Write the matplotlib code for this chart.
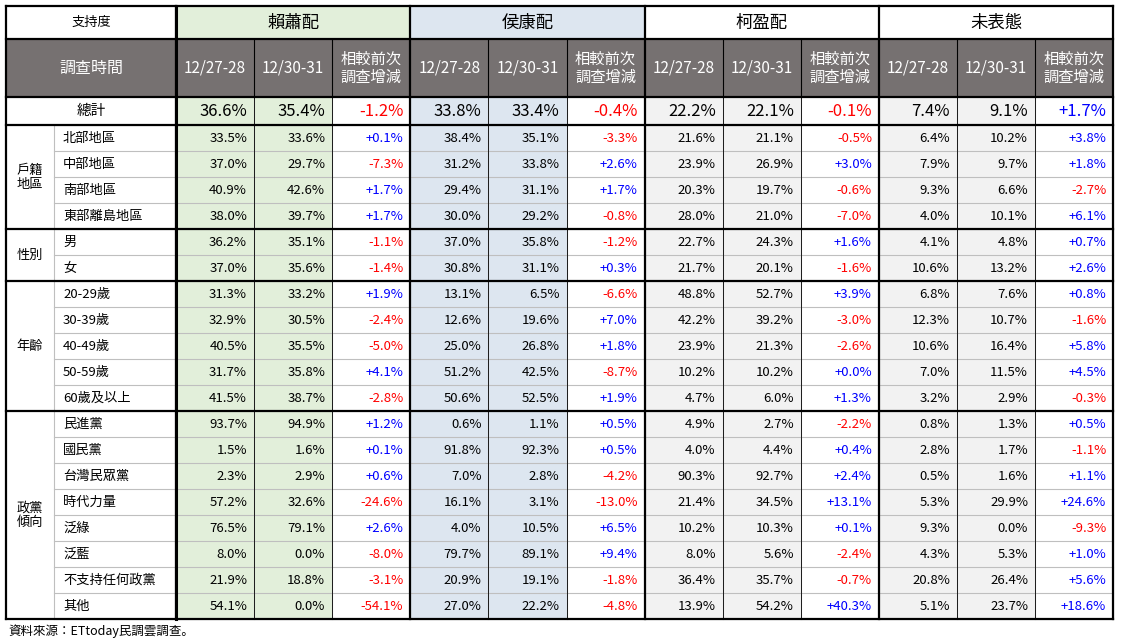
import matplotlib
matplotlib.use("Agg")
import matplotlib.pyplot as plt
from matplotlib.patches import Rectangle
from matplotlib import font_manager as fm

cjk = [f.name for f in fm.fontManager.ttflist if "CJK" in f.name]
pref = [n for n in ["Noto Sans CJK TC", "Noto Sans CJK JP", "Noto Sans CJK SC"] if n in cjk] or cjk[:1]
plt.rcParams["font.family"] = pref + ["DejaVu Sans"]

candidates = ["賴蕭配", "侯康配", "柯盈配", "未表態"]
dates = ["12/27-28", "12/30-31"]
groups = [("戶籍\n地區", 4), ("性別", 2), ("年齡", 5), ("政黨\n傾向", 8)]
rows = ["北部地區", "中部地區", "南部地區", "東部離島地區", "男", "女",
        "20-29歲", "30-39歲", "40-49歲", "50-59歲", "60歲及以上",
        "民進黨", "國民黨", "台灣民眾黨", "時代力量", "泛綠", "泛藍", "不支持任何政黨", "其他"]
total = [36.6, 35.4, 33.8, 33.4, 22.2, 22.1, 7.4, 9.1]
total_chg = [-1.2, -0.4, -0.1, 1.7]
vals = [
    [33.5, 33.6, 38.4, 35.1, 21.6, 21.1, 6.4, 10.2],
    [37.0, 29.7, 31.2, 33.8, 23.9, 26.9, 7.9, 9.7],
    [40.9, 42.6, 29.4, 31.1, 20.3, 19.7, 9.3, 6.6],
    [38.0, 39.7, 30.0, 29.2, 28.0, 21.0, 4.0, 10.1],
    [36.2, 35.1, 37.0, 35.8, 22.7, 24.3, 4.1, 4.8],
    [37.0, 35.6, 30.8, 31.1, 21.7, 20.1, 10.6, 13.2],
    [31.3, 33.2, 13.1, 6.5, 48.8, 52.7, 6.8, 7.6],
    [32.9, 30.5, 12.6, 19.6, 42.2, 39.2, 12.3, 10.7],
    [40.5, 35.5, 25.0, 26.8, 23.9, 21.3, 10.6, 16.4],
    [31.7, 35.8, 51.2, 42.5, 10.2, 10.2, 7.0, 11.5],
    [41.5, 38.7, 50.6, 52.5, 4.7, 6.0, 3.2, 2.9],
    [93.7, 94.9, 0.6, 1.1, 4.9, 2.7, 0.8, 1.3],
    [1.5, 1.6, 91.8, 92.3, 4.0, 4.4, 2.8, 1.7],
    [2.3, 2.9, 7.0, 2.8, 90.3, 92.7, 0.5, 1.6],
    [57.2, 32.6, 16.1, 3.1, 21.4, 34.5, 5.3, 29.9],
    [76.5, 79.1, 4.0, 10.5, 10.2, 10.3, 9.3, 0.0],
    [8.0, 0.0, 79.7, 89.1, 8.0, 5.6, 4.3, 5.3],
    [21.9, 18.8, 20.9, 19.1, 36.4, 35.7, 20.8, 26.4],
    [54.1, 0.0, 27.0, 22.2, 13.9, 54.2, 5.1, 23.7],
]
chg = [
    [0.1, -3.3, -0.5, 3.8], [-7.3, 2.6, 3.0, 1.8], [1.7, 1.7, -0.6, -2.7], [1.7, -0.8, -7.0, 6.1],
    [-1.1, -1.2, 1.6, 0.7], [-1.4, 0.3, -1.6, 2.6],
    [1.9, -6.6, 3.9, 0.8], [-2.4, 7.0, -3.0, -1.6], [-5.0, 1.8, -2.6, 5.8], [4.1, -8.7, 0.0, 4.5], [-2.8, 1.9, 1.3, -0.3],
    [1.2, 0.5, -2.2, 0.5], [0.1, 0.5, 0.4, -1.1], [0.6, -4.2, 2.4, 1.1], [-24.6, -13.0, 13.1, 24.6],
    [2.6, 6.5, 0.1, -9.3], [-8.0, 9.4, -2.4, 1.0], [-3.1, -1.8, -0.7, 5.6], [-54.1, -4.8, 40.3, 18.6],
]

fig = plt.figure(figsize=(11.21, 6.44), dpi=100)
ax = fig.add_axes([0, 0, 1, 1])
ax.set_xlim(0, 1121); ax.set_ylim(644, 0); ax.axis("off")

X0, X1, X2 = 6, 54, 176
CW = 78.1
colx = [X2 + i * CW for i in range(13)]
Y = [6, 39, 97, 125]
RH = 26
rowy = [125 + i * RH for i in range(20)]
bgc = ["#E2EFDA", "#DDE6F0", "#F2F2F2", "#F2F2F2"]
hdr = "#767171"
RED, BLUE = "#FF0000", "#0000FF"

def rect(x0, y0, x1, y1, fc):
    ax.add_patch(Rectangle((x0, y0), x1 - x0, y1 - y0, fc=fc, ec="none", lw=0))

def fmt_chg(v):
    return ("+" if v >= 0 else "") + f"{v:.1f}%"

for c in range(4):
    rect(colx[3*c], Y[0], colx[3*c+3], Y[1], bgc[c] if c < 2 else "white")
    for k in range(2):
        rect(colx[3*c+k], Y[2], colx[3*c+k+1], rowy[-1], bgc[c])
rect(X0, Y[1], colx[-1], Y[2], hdr)

ax.text((X0 + X2) / 2, (Y[0] + Y[1]) / 2, "支持度", ha="center", va="center", fontsize=9.5)
ax.text((X0 + X2) / 2, (Y[1] + Y[2]) / 2, "調查時間", ha="center", va="center", fontsize=11.5, color="white")
ax.text((X0 + X2) / 2, (Y[2] + Y[3]) / 2, "總計", ha="center", va="center", fontsize=10.5)
for c, name in enumerate(candidates):
    ax.text((colx[3*c] + colx[3*c+3]) / 2, (Y[0] + Y[1]) / 2, name, ha="center", va="center", fontsize=12.5)
    for k in range(2):
        ax.text((colx[3*c+k] + colx[3*c+k+1]) / 2, (Y[1] + Y[2]) / 2, dates[k],
                ha="center", va="center", fontsize=11, color="white")
    ax.text((colx[3*c+2] + colx[3*c+3]) / 2, (Y[1] + Y[2]) / 2, "相較前次\n調查增減",
            ha="center", va="center", fontsize=11, color="white", linespacing=1.1)
    for k in range(2):
        ax.text(colx[3*c+k+1] - 7, (Y[2] + Y[3]) / 2, f"{total[2*c+k]:.1f}%", ha="right", va="center", fontsize=12)
    v = total_chg[c]
    ax.text(colx[3*c+3] - 7, (Y[2] + Y[3]) / 2, fmt_chg(v), ha="right", va="center", fontsize=12,
            color=RED if v < 0 else BLUE)

for r, lab in enumerate(rows):
    yc = (rowy[r] + rowy[r+1]) / 2
    ax.text(X1 + 9, yc, lab, ha="left", va="center", fontsize=9.5)
    for c in range(4):
        for k in range(2):
            ax.text(colx[3*c+k+1] - 7, yc, f"{vals[r][2*c+k]:.1f}%", ha="right", va="center", fontsize=9.5)
        v = chg[r][c]
        ax.text(colx[3*c+3] - 7, yc, fmt_chg(v), ha="right", va="center", fontsize=9.5,
                color=RED if v < 0 else BLUE)

g = "#BFBFBF"
for r in range(20):
    ax.plot([X1, colx[-1]], [rowy[r], rowy[r]], color=g, lw=0.8)
for x in colx:
    ax.plot([x, x], [Y[2], rowy[-1]], color=g, lw=0.8)
ax.plot([X1, X1], [Y[3], rowy[-1]], color=g, lw=0.8)
for x in colx[1:3] + colx[4:6] + colx[7:9] + colx[10:12]:
    ax.plot([x, x], [Y[1], Y[2]], color="black", lw=0.8)
    ax.plot([x, x], [Y[2], rowy[-1]], color="black", lw=0.6)

start = 0
for name, n in groups:
    y0, y1 = rowy[start], rowy[start + n]
    ax.text((X0 + X1) / 2, (y0 + y1) / 2, name, ha="center", va="center", fontsize=9.5, linespacing=1.1)
    ax.plot([X0, colx[-1]], [y1, y1], color="black", lw=1.6)
    start += n
for y in Y:
    ax.plot([X0, colx[-1]], [y, y], color="black", lw=1.6)
for x in [X0, X2, colx[3], colx[6], colx[9], colx[12]]:
    ax.plot([x, x], [Y[0], rowy[-1]], color="black", lw=1.6)
ax.plot([X2, X2], [Y[0], rowy[-1]], color="black", lw=2.2)

ax.text(8, 631, "資料來源：ETtoday民調雲調查。", ha="left", va="center", fontsize=9)

fig.savefig("out.png", dpi=100)
